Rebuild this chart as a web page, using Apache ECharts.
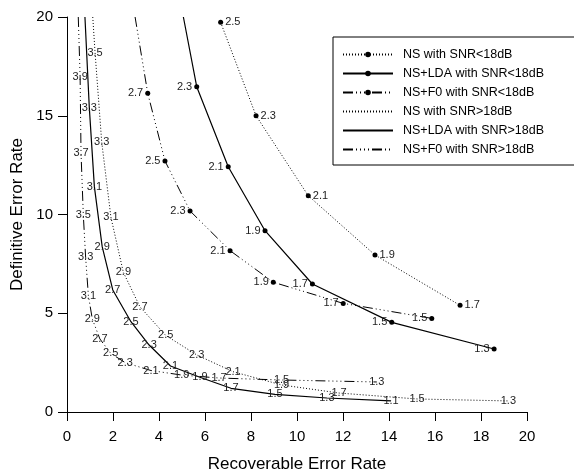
<!DOCTYPE html>
<html><head><meta charset="utf-8">
<script src="https://cdn.jsdelivr.net/npm/echarts@6/dist/echarts.min.js"></script>
<style>html,body{margin:0;padding:0;background:#fff}#c{width:574px;height:472px}</style>
</head><body><div id="c"></div><script>
const F = 'Liberation Sans, Arial, Helvetica, sans-serif';
// NS with SNR<18dB
const nsLowX = [6.68, 8.22, 10.49, 13.39, 17.09];
const nsLowY = [19.73, 15.00, 10.95, 7.95, 5.40];
const nsLowLab = ['2.5','2.3','2.1','1.9','1.7'];
// NS+LDA with SNR<18dB
const ldaLowX = [5.06, 5.64, 7.01, 8.61, 10.67, 14.12, 18.57];
const ldaLowY = [20.0, 16.47, 12.42, 9.18, 6.48, 4.54, 3.19];
const ldaLowLab = [null,'2.3','2.1','1.9','1.7','1.5','1.3'];
// NS+F0 with SNR<18dB
const f0LowX = [2.96, 3.51, 4.26, 5.35, 7.09, 8.97, 12.01, 15.86];
const f0LowY = [20.0, 16.14, 12.71, 10.18, 8.17, 6.57, 5.50, 4.74];
const f0LowLab = [null,'2.7','2.5','2.3','2.1','1.9','1.7','1.5'];
// NS with SNR>18dB
const nsHighX = [1.12, 1.22, 1.51, 1.91, 2.45, 3.17, 4.29, 5.64, 7.22, 9.33, 11.83, 15.22, 19.19];
const nsHighY = [20.0, 18.20, 13.66, 9.86, 7.07, 5.33, 3.88, 2.89, 2.04, 1.37, 0.96, 0.66, 0.56];
const nsHighLab = [null,'3.5','3.3','3.1','2.9','2.7','2.5','2.3','2.1','1.9','1.7','1.5','1.3'];
// NS+LDA with SNR>18dB
const ldaHighX = [0.78, 0.97, 1.19, 1.53, 1.99, 2.78, 3.57, 4.50, 5.78, 7.13, 9.04, 11.30, 14.09];
const ldaHighY = [20.0, 15.41, 11.41, 8.37, 6.18, 4.57, 3.39, 2.33, 1.76, 1.20, 0.89, 0.71, 0.56];
const ldaHighLab = [null,'3.3','3.1','2.9','2.7','2.5','2.3','2.1','1.9','1.7','1.5','1.3','1.1'];
// NS+F0 with SNR>18dB
const f0HighX = [0.49, 0.57, 0.61, 0.71, 0.81, 0.93, 1.10, 1.43, 1.90, 2.53, 3.65, 4.99, 6.61, 9.33, 13.47];
const f0HighY = [20.0, 16.98, 13.10, 9.97, 7.83, 5.89, 4.71, 3.70, 2.97, 2.50, 2.10, 1.87, 1.72, 1.62, 1.52];
const f0HighLab = [null,'3.9','3.7','3.5','3.3','3.1','2.9','2.7','2.5','2.3','2.1','1.9','1.7','1.5','1.3'];

const seriesNames = ['NS with SNR<18dB','NS+LDA with SNR<18dB','NS+F0 with SNR<18dB','NS with SNR>18dB','NS+LDA with SNR>18dB','NS+F0 with SNR>18dB'];

const DOT = [1, 2];
const DASHDOT = [10, 3, 1, 3, 1, 3, 1, 3, 1, 3];

function pts(xs, ys, labs) {
  return xs.map((x, i) => {
    const item = { value: [x, ys[i]], name: labs[i] || '' };
    if (labs[i] == null) item.symbol = 'none';
    return item;
  });
}
function mk(name, xs, ys, labs, dash, marker, pos) {
  return {
    name, type: 'line', data: pts(xs, ys, labs), clip: true,
    symbol: 'circle', symbolSize: marker ? 5 : 1, showSymbol: true,
    itemStyle: { color: marker ? '#000' : 'rgba(0,0,0,0)' },
    lineStyle: { color: '#000', width: dash === 'solid' ? 1.2 : 1, type: dash },
    label: { show: true, position: pos, distance: 2, formatter: p => p.name,
             color: '#222', fontSize: 11, fontFamily: F },
    emphasis: { disabled: true }, animation: false
  };
}

const chart = echarts.init(document.getElementById('c'), null, { renderer: 'canvas' });
chart.setOption({
  backgroundColor: '#fff',
  animation: false,
  grid: { left: 67, right: 47, top: 17, bottom: 60, containLabel: false, outerBoundsMode: 'none' },
  legend: {
    orient: 'vertical', left: 333, top: 37, itemWidth: 50, itemHeight: 7, itemGap: 6,
    padding: [11, 32, 9, 9], borderColor: '#000', borderWidth: 1,
    textStyle: { fontSize: 12.5, color: '#000', fontFamily: F, padding: [0, 0, 0, 5] },
    data: seriesNames
  },
  xAxis: {
    type: 'value', min: 0, max: 20, interval: 2,
    axisLine: { show: true, onZero: false, lineStyle: { color: '#000', width: 1 } },
    axisTick: { show: true, length: 9, lineStyle: { color: '#000' } },
    axisLabel: { color: '#000', fontSize: 15, margin: 17, fontFamily: F },
    splitLine: { show: false },
    name: 'Recoverable Error Rate', nameLocation: 'middle', nameGap: 44,
    nameTextStyle: { fontSize: 17, color: '#000', fontFamily: F }
  },
  yAxis: {
    type: 'value', min: 0, max: 20, interval: 5,
    axisLine: { show: true, onZero: false, lineStyle: { color: '#000', width: 1 } },
    axisTick: { show: true, length: 9, lineStyle: { color: '#000' } },
    axisLabel: { color: '#000', fontSize: 15, margin: 14, fontFamily: F },
    splitLine: { show: false },
    name: 'Definitive Error Rate', nameLocation: 'middle', nameGap: 34,
    nameTextStyle: { fontSize: 17, color: '#000', fontFamily: F }
  },
  series: [
    mk(seriesNames[0], nsLowX, nsLowY, nsLowLab, DOT, true, 'right'),
    mk(seriesNames[1], ldaLowX, ldaLowY, ldaLowLab, 'solid', true, 'left'),
    mk(seriesNames[2], f0LowX, f0LowY, f0LowLab, DASHDOT, true, 'left'),
    mk(seriesNames[3], nsHighX, nsHighY, nsHighLab, DOT, false, 'inside'),
    mk(seriesNames[4], ldaHighX, ldaHighY, ldaHighLab, 'solid', false, 'inside'),
    mk(seriesNames[5], f0HighX, f0HighY, f0HighLab, DASHDOT, false, 'inside')
  ]
});
</script></body></html>
